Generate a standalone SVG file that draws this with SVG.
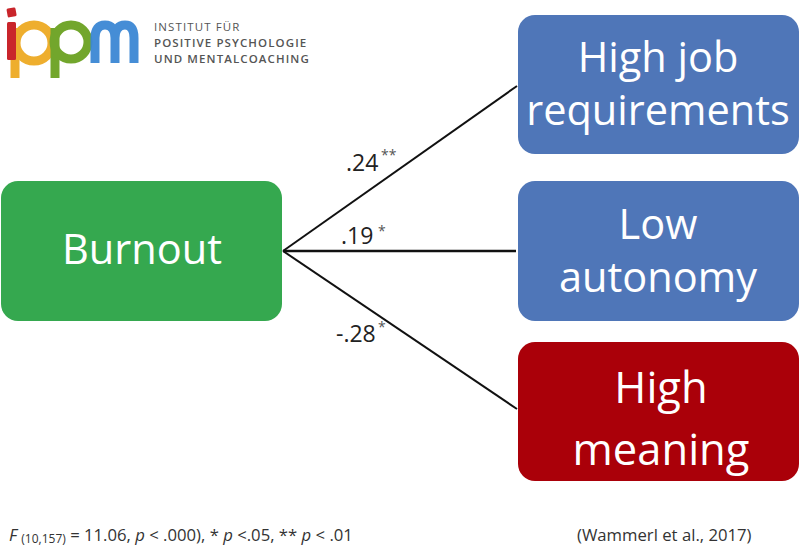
<svg xmlns="http://www.w3.org/2000/svg" width="800" height="547" viewBox="0 0 800 547">
<style>
text{font-family:"Open Sans","Noto Sans","Liberation Sans",sans-serif;fill:#222}
.n{fill:#fff;font-size:41.5px;text-anchor:middle}
.m{font-size:43.5px}
.l{font-size:23px}
.s{font-size:14px;fill:#555}
.f{font-size:16.7px;fill:#333}
.c{stroke:#111;fill:none;stroke-width:2}
.logo{font-size:11.5px;font-weight:600;fill:#555;letter-spacing:1.1px}
</style>
<rect width="800" height="547" fill="#fff"/>
<g id="logo" fill="none">
<path d="M15 28V78" stroke="#eeae2e" stroke-width="9"/>
<circle cx="34" cy="43" r="18" stroke="#eeae2e" stroke-width="9"/>
<path d="M55 28V78" stroke="#72a62c" stroke-width="9"/>
<circle cx="71" cy="42" r="17" stroke="#72a62c" stroke-width="9"/>
<path d="M95 63V38Q95 25 105 25Q115 25 115 38V63M115 38Q115 25 125 25Q134 25 134 38V63" stroke="#3b87d4" stroke-width="9" opacity=".95"/>
<rect x="7" y="22" width="9" height="38" rx="1.5" fill="#c9252b"/>
<rect x="7" y="8" width="9" height="9" rx="1.5" fill="#c9252b" transform="rotate(-10 11 12)"/>
</g>
<g id="logo-text">
<text class="logo" x="154" y="31" style="font-weight:400">INSTITUT FÜR</text>
<text class="logo" x="154" y="47">POSITIVE PSYCHOLOGIE</text>
<text class="logo" x="154" y="63">UND MENTALCOACHING</text>
</g>
<g id="connectors">
<path class="c" d="M283 251L517 86"/>
<path class="c" style="stroke-width:2.6" d="M283 251H516"/>
<path class="c" d="M283 251L517 409"/>
</g>
<g id="edge-labels">
<text class="l" x="346" y="171">.24</text><text class="s" x="381" y="160">**</text>
<text class="l" x="341" y="244">.19</text><text class="s" x="378" y="236">*</text>
<text class="l" x="336" y="342">-.28</text><text class="s" x="378" y="332">*</text>
</g>
<g id="burnout"><rect x="1" y="181" width="281" height="140" rx="17" fill="#35a84f"/><text class="n" x="142" y="264">Burnout</text></g>
<g id="high-job"><rect x="518" y="15" width="281" height="139" rx="17" fill="#4f76b8"/><text class="n" x="658" y="72">High job</text><text class="n" x="658" y="125">requirements</text></g>
<g id="low-autonomy"><rect x="518" y="181" width="281" height="140" rx="17" fill="#4f76b8"/><text class="n" x="658" y="239">Low</text><text class="n" x="658" y="292">autonomy</text></g>
<g id="high-meaning"><rect x="518" y="342" width="281" height="139" rx="17" fill="#aa0009"/><text class="n m" x="661" y="403">High</text><text class="n m" x="661" y="465">meaning</text></g>
<g id="footer">
<text class="f" x="9" y="541"><tspan font-style="italic">F</tspan> <tspan font-size="12" dy="2">(10,157)</tspan><tspan dy="-2"> = 11.06, </tspan><tspan font-style="italic">p</tspan> &lt; .000), * <tspan font-style="italic">p</tspan> &lt;.05, ** <tspan font-style="italic">p</tspan> &lt; .01</text>
<text class="f" x="577" y="541">(Wammerl et al., 2017)</text>
</g>
</svg>
